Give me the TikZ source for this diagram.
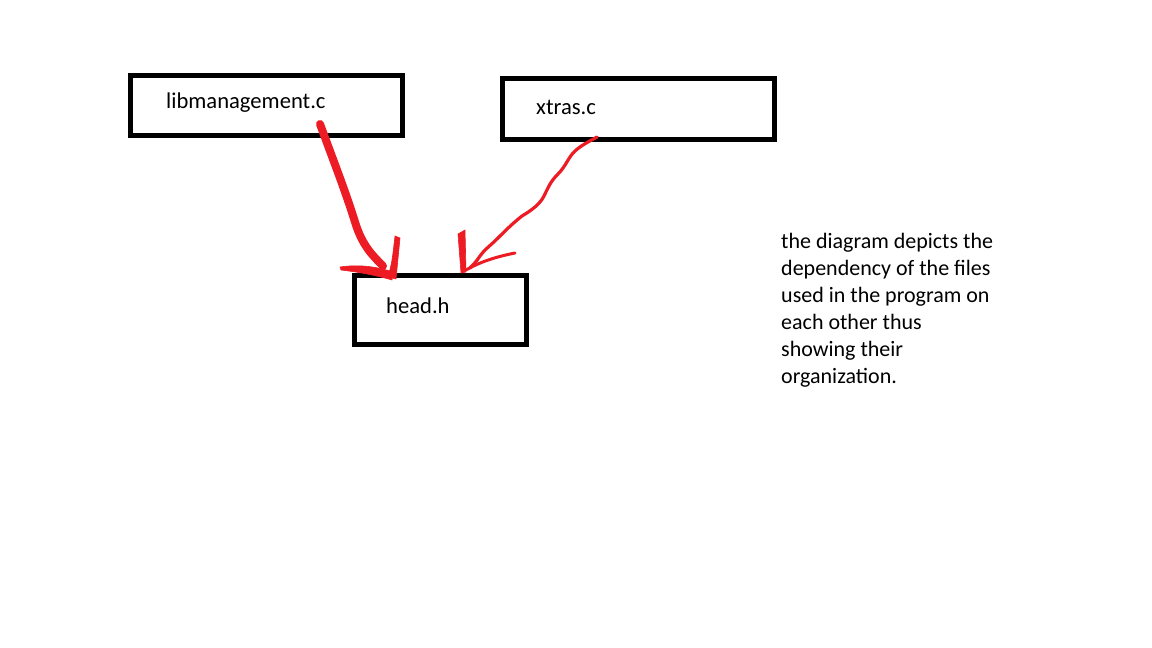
\documentclass[tikz,border=0pt]{standalone}
\usepackage{fontspec}
\setmainfont{Carlito}
\begin{document}
\begin{tikzpicture}[x=1pt,y=-1pt,
  filebox/.style={draw=black,line width=5pt,inner sep=0pt,outer sep=0pt,anchor=north west},
  lbl/.style={anchor=base west,inner sep=0pt,font=\fontsize{22.6}{26}\selectfont},
  note/.style={anchor=base west,inner sep=0pt,align=left,font=\fontsize{22}{27}\selectfont},
  pen/.style={draw=paintred,line cap=round,line join=round},
  blob/.style={fill=paintred,draw=paintred,line width=0.6pt,line join=round}]
\definecolor{paintred}{RGB}{237,28,36}
\useasboundingbox (0,0) rectangle (1152,648);
\fill[white] (0,0) rectangle (1152,648);
% boxes
\node[filebox,minimum width=272pt,minimum height=60pt] (lib) at (130.5,75.5) {};
\node[filebox,minimum width=272pt,minimum height=61pt] (xtr) at (502.5,78.5) {};
\node[filebox,minimum width=172pt,minimum height=69pt] (head) at (354.5,275.5) {};
% labels
\node[lbl] (libt) at (166,108) {libmanagement.c};
\node[lbl] (xtrt) at (536,114) {xtras.c};
\node[lbl] (headt) at (386,313) {head.h};
\node[note] (nt) at (781,383) {the diagram depicts the\\dependency of the files\\used in the program on\\each other thus\\showing their\\organization.};
% connector points
\coordinate (a1) at (320,124);
\coordinate (a2) at (383,266);
\coordinate (b1) at (597,137);
\coordinate (b2) at (470,268);
% left arrow shaft
\draw[pen,line width=8pt] (a1) .. controls (335,165) and (345,190) .. (355,222)
  .. controls (362,245) and (372,255) .. (a2);
% left arrow barbs
\path[blob] (340,267) .. controls (360,264) and (378,267) .. (393,272)
  -- (392,280) .. controls (375,275) and (358,272) .. (341,270) -- cycle;
\path[blob] (395,236) -- (400,238) -- (396,279) -- (388,277) .. controls (392,262) .. cycle;
% right arrow shaft (wavy)
\draw[pen,line width=3.2pt] (b1) .. controls (588,142) and (580,146) .. (574,152)
  .. controls (568,158) and (566,166) .. (558,174)
  .. controls (550,182) and (548,188) .. (544,196)
  .. controls (540,204) and (532,210) .. (522,216)
  .. controls (512,224) and (506,230) .. (498,238)
  .. controls (490,246) and (484,250) .. (480,256)
  .. controls (476,262) and (473,265) .. (b2);
% right arrow barbs
\path[blob] (458,234) -- (465,230) -- (466,272) -- (461,273) -- cycle;
\draw[pen,line width=3pt] (515,253) .. controls (495,257) and (480,262) .. (466,270);
\end{tikzpicture}
\end{document}
